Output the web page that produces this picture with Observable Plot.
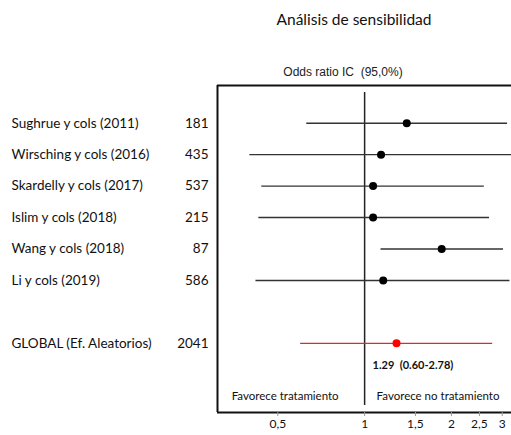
<!DOCTYPE html>
<html>
<head>
<meta charset="utf-8">
<script src="https://cdn.jsdelivr.net/npm/d3@7"></script>
<script src="https://cdn.jsdelivr.net/npm/@observablehq/plot@0.6"></script>
<style>
  html, body { margin: 0; padding: 0; background: #fff; }
  #wrap { position: relative; width: 511px; height: 435px; overflow: hidden; }
  #title { position: absolute; left: 0; width: 708px; top: 10px; text-align: center;
           font-family: Lato, sans-serif; font-size: 15.5px; color: #111; }
  #sub { position: absolute; left: 0; width: 686px; top: 65px; text-align: center;
         font-family: "Liberation Sans", Arial, sans-serif; font-size: 12px; color: #222; }
  #chart { position: absolute; left: 0; top: 0; }
</style>
</head>
<body>
<div id="wrap">
  <div id="chart"></div>
  <div id="title">Análisis de sensibilidad</div>
  <div id="sub">Odds ratio IC&nbsp;&nbsp;(95,0%)</div>
</div>
<script>
const studies = ["Sughrue y cols (2011)", "Wirsching y cols (2016)", "Skardelly y cols (2017)",
                 "Islim y cols (2018)", "Wang y cols (2018)", "Li y cols (2019)"];
const sampleN = [181, 435, 537, 215, 87, 586];
const oddsRatio = [1.40, 1.14, 1.07, 1.07, 1.85, 1.16];
const ciLow = [0.63, 0.40, 0.44, 0.43, 1.14, 0.42];
const ciHigh = [3.13, 3.30, 2.60, 2.71, 3.03, 3.19];

const globalLabel = "GLOBAL (Ef. Aleatorios)";
const globalN = 2041;
const globalOR = 1.29;
const globalLow = 0.60;
const globalHigh = 2.78;
const globalText = "1.29  (0.60-2.78)";

const xTicks = [0.5, 1, 1.5, 2, 2.5, 3];
const sideLabels = ["Favorece tratamiento", "Favorece no tratamiento"];

const rows = studies.map((s, i) => ({label: s, n: sampleN[i], or: oddsRatio[i], lo: ciLow[i], hi: ciHigh[i], row: i}));
const glob = [{label: globalLabel, n: globalN, or: globalOR, lo: globalLow, hi: globalHigh, row: studies.length + 1}];

const labelFont = "Lato, sans-serif";
const xDomain = [0.309, 3.23];
const yDomain = [-1.2, 9.2];

const plot = Plot.plot({
  width: 511,
  height: 435,
  marginLeft: 217,
  marginRight: 0,
  marginTop: 85,
  marginBottom: 23,
  style: {fontFamily: labelFont, background: "transparent"},
  x: {type: "log", domain: xDomain, label: null},
  y: {domain: yDomain, reverse: true, axis: null},
  marks: [
    Plot.ruleY(yDomain, {stroke: "#111", strokeWidth: 2}),
    Plot.ruleX([xDomain[0]], {stroke: "#111", strokeWidth: 2}),
    Plot.ruleX([1], {stroke: "#222", strokeWidth: 1.5, insetTop: 7, insetBottom: 7}),
    Plot.ruleY(rows, {y: "row", x1: "lo", x2: "hi", stroke: "#333", strokeWidth: 1.4}),
    Plot.dot(rows, {x: "or", y: "row", r: 4, fill: "#000", stroke: "none"}),
    Plot.ruleY(glob, {y: "row", x1: "lo", x2: "hi", stroke: "#e8262a", strokeWidth: 1.2}),
    Plot.dot(glob, {x: "or", y: "row", r: 4, fill: "#f00", stroke: "none"}),
    Plot.text(rows.concat(glob), {y: "row", text: "label", frameAnchor: "left", dx: -206, textAnchor: "start", fontSize: 13.5, fill: "#111"}),
    Plot.text(rows.concat(glob), {y: "row", text: d => String(d.n), frameAnchor: "left", dx: -9, textAnchor: "end", fontSize: 13.5, fill: "#111"}),
    Plot.text(glob, {x: () => 1, y: "row", text: () => globalText, dx: 8, dy: 22, textAnchor: "start", fontSize: 11, fontWeight: "bold", fill: "#111"}),
    Plot.text([sideLabels[0]], {x: () => 1, text: d => d, frameAnchor: "bottom", dx: -26, dy: -13, textAnchor: "end", fontSize: 11.5, fill: "#111"}),
    Plot.text([sideLabels[1]], {x: () => 1, text: d => d, frameAnchor: "bottom", dx: 12, dy: -13, textAnchor: "start", fontSize: 11.5, fill: "#111"}),
    Plot.axisX({ticks: xTicks, tickFormat: d => String(d).replace(".", ","), tickSize: 4, stroke: "#999", fill: "#111", fontSize: 12, tickPadding: 3, label: null})
  ]
});
document.getElementById("chart").appendChild(plot);
</script>
</body>
</html>
